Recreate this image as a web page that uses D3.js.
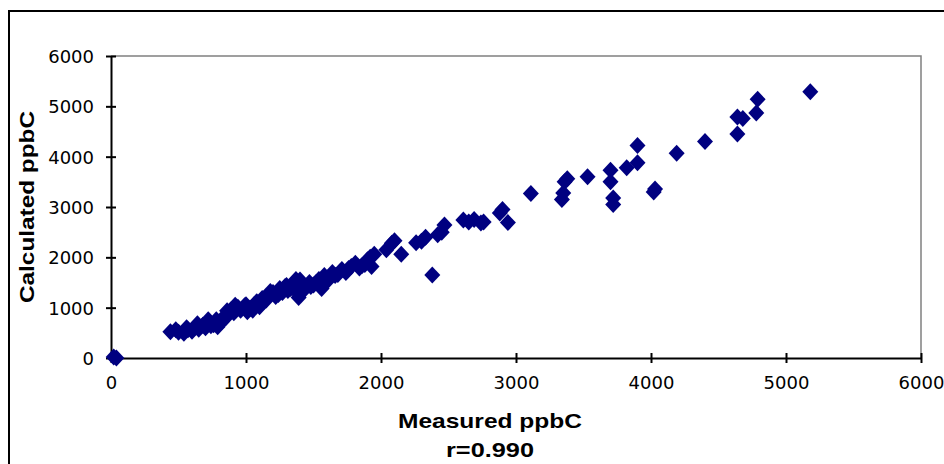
<!DOCTYPE html>
<html>
<head>
<meta charset="utf-8">
<script src="https://cdn.jsdelivr.net/npm/d3@7"></script>
<style>
  body { margin: 0; background: #fff; }
  svg { display: block; }
</style>
</head>
<body>
<div id="chart"></div>
<script>
// measured vs calculated ppbC
var measured = [20, 40,
  440, 480, 500, 540, 560, 570, 600, 620, 640, 650, 680, 700, 720, 730, 740, 760, 780, 790,
  820, 830, 850, 860, 870, 890, 910, 920, 940, 960, 990, 1000, 1010, 1030, 1050, 1060, 1080,
  1100, 1120, 1130, 1150, 1170, 1180, 1200, 1220, 1240, 1250, 1270, 1290, 1300, 1310, 1330,
  1350, 1370, 1380, 1390, 1400, 1410, 1430, 1440, 1470, 1480, 1500, 1520, 1540, 1560, 1580,
  1600, 1610, 1640, 1660, 1680, 1710, 1740, 1760, 1780, 1810, 1840, 1860, 1880, 1900, 1920,
  1930, 1950, 2040, 2080, 2100, 2150, 2260, 2300, 2330, 2380, 2420, 2450, 2470, 2610, 2650,
  2690, 2740, 2760, 2880, 2900, 2940, 3110, 3340, 3350, 3360, 3380, 3530, 3700, 3700, 3720,
  3720, 3820, 3900, 3900, 4020, 4030, 4190, 4400, 4640, 4640, 4680, 4780, 4790, 5180];
var calculated = [20, 0,
  520, 560, 510, 490, 600, 560, 530, 600, 680, 570, 650, 600, 760, 700, 640, 660, 760, 620,
  720, 800, 800, 940, 880, 960, 900, 1050, 1010, 950, 1040, 1060, 920, 990, 950, 1060, 1120,
  1020, 1180, 1120, 1150, 1240, 1320, 1300, 1220, 1260, 1380, 1300, 1420, 1440, 1340, 1380,
  1450, 1560, 1300, 1200, 1550, 1480, 1350, 1400, 1500, 1420, 1450, 1500, 1560, 1380, 1640,
  1520, 1600, 1700, 1640, 1660, 1760, 1700, 1780, 1820, 1880, 1790, 1840, 1860, 1950, 2000,
  1820, 2060, 2150, 2280, 2330, 2060, 2290, 2320, 2400, 1650, 2450, 2500, 2640, 2740, 2700,
  2750, 2680, 2700, 2880, 2950, 2690, 3270, 3150, 3280, 3500, 3560, 3600, 3730, 3500, 3180,
  3050, 3780, 3880, 4220, 3300, 3360, 4070, 4300, 4450, 4790, 4760, 4870, 5140, 5290];
var xTicks = [0, 1000, 2000, 3000, 4000, 5000, 6000];
var yTicks = [0, 1000, 2000, 3000, 4000, 5000, 6000];

var width = 944, height = 464;
var plot = {left: 111, right: 921, top: 56, bottom: 358};

var svg = d3.select("#chart").append("svg")
  .attr("width", width)
  .attr("height", height);

svg.append("rect").attr("width", width).attr("height", height).attr("fill", "#fff");

// outer chart frame (runs off the right/bottom edge like the original)
svg.append("rect")
  .attr("x", 9).attr("y", 11)
  .attr("width", 960).attr("height", 480)
  .attr("fill", "none").attr("stroke", "#000").attr("stroke-width", 2);

var x = d3.scaleLinear().domain([0, 6000]).range([plot.left, plot.right]);
var y = d3.scaleLinear().domain([0, 6000]).range([plot.bottom, plot.top]);

// plot area top/right border in grey
svg.append("path")
  .attr("d", "M" + plot.left + "," + plot.top + "H" + plot.right + "V" + plot.bottom)
  .attr("fill", "none").attr("stroke", "#808080").attr("stroke-width", 1.5);

var tickFont = "'DejaVu Sans', Verdana, sans-serif";

var xAxis = svg.append("g")
  .attr("transform", "translate(0," + plot.bottom + ")")
  .call(d3.axisBottom(x).tickValues(xTicks).tickSizeOuter(0).tickFormat(d3.format("d")));
xAxis.select(".domain").attr("stroke-width", 2);
xAxis.selectAll(".tick line").attr("y1", -5).attr("y2", 5).attr("stroke-width", 2);
xAxis.selectAll(".tick text")
  .attr("y", 31).attr("dy", 0)
  .style("font-family", tickFont)
  .style("font-size", "18px")
  .attr("fill", "#000");

var yAxis = svg.append("g")
  .attr("transform", "translate(" + plot.left + ",0)")
  .call(d3.axisLeft(y).tickValues(yTicks).tickSizeOuter(0).tickFormat(d3.format("d")));
yAxis.select(".domain").attr("stroke-width", 2);
yAxis.selectAll(".tick line").attr("x1", -5).attr("x2", 5).attr("stroke-width", 2);
yAxis.selectAll(".tick text")
  .attr("x", -17).attr("dy", "0.36em")
  .style("font-family", tickFont)
  .style("font-size", "18px")
  .attr("fill", "#000");

// diamonds
var pts = measured.map(function(m, i) { return {m: m, c: calculated[i]}; });
svg.append("g").selectAll("path")
  .data(pts)
  .enter()
  .append("path")
  .attr("d", "M0,-8.5L8,0L0,8.5L-8,0Z")
  .attr("transform", function(d) { return "translate(" + x(d.m) + "," + y(d.c) + ")"; })
  .attr("fill", "#000080");

// titles
var titleFont = "'Liberation Sans', Arial, sans-serif";
svg.append("text")
  .attr("x", 490).attr("y", 428)
  .attr("text-anchor", "middle")
  .attr("textLength", 184).attr("lengthAdjust", "spacingAndGlyphs")
  .style("font-family", titleFont).style("font-size", "21px").style("font-weight", "bold")
  .text("Measured ppbC");

svg.append("text")
  .attr("x", 490).attr("y", 457)
  .attr("text-anchor", "middle")
  .attr("textLength", 88).attr("lengthAdjust", "spacingAndGlyphs")
  .style("font-family", titleFont).style("font-size", "21px").style("font-weight", "bold")
  .text("r=0.990");

svg.append("text")
  .attr("transform", "translate(34,207) rotate(-90)")
  .attr("text-anchor", "middle")
  .attr("textLength", 192).attr("lengthAdjust", "spacingAndGlyphs")
  .style("font-family", titleFont).style("font-size", "21px").style("font-weight", "bold")
  .text("Calculated ppbC");
</script>
</body>
</html>
